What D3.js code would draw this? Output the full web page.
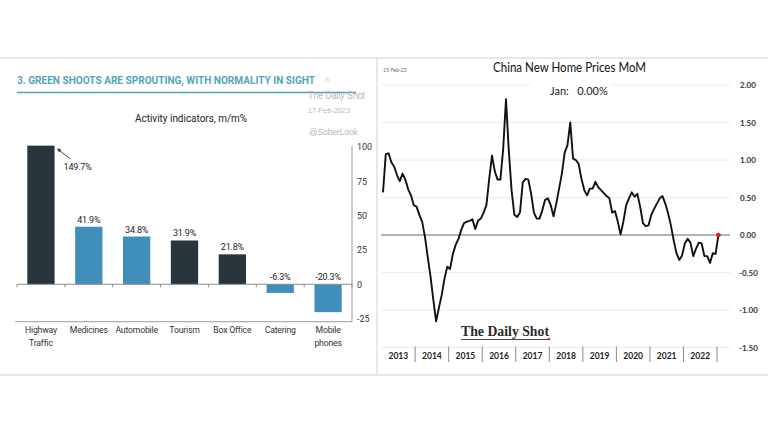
<!DOCTYPE html>
<html><head><meta charset="utf-8">
<script src="https://cdn.jsdelivr.net/npm/d3@7"></script>
<style>html,body{margin:0;padding:0;background:#fff;}svg{display:block;}</style>
</head><body>
<script>
// ---------- Left chart data ----------
const categories = ["Highway Traffic","Medicines","Automobile","Tourism","Box Office","Catering","Mobile phones"];
const catLines = [["Highway","Traffic"],["Medicines"],["Automobile"],["Tourism"],["Box Office"],["Catering"],["Mobile","phones"]];
const activityValues = [149.7, 41.9, 34.8, 31.9, 21.8, -6.3, -20.3];
const leftTicks = [-25, 0, 25, 50, 75, 100];
// ---------- Right chart data (monthly, Jan 2013 .. Jan 2023) ----------
const startYear = 2013;
const yearLabels = ["2013","2014","2015","2016","2017","2018","2019","2020","2021","2022"];
const homePriceMoM = [
 0.57,1.08,1.09,0.97,0.91,0.80,0.72,0.82,0.74,0.61,0.53,0.40,
 0.38,0.27,0.18,-0.02,-0.29,-0.55,-0.86,-1.15,-0.97,-0.80,-0.58,-0.42,
 -0.45,-0.25,-0.13,-0.05,0.07,0.16,0.18,0.19,0.21,0.08,0.19,0.22,
 0.30,0.40,0.75,1.06,0.85,0.74,0.74,1.15,1.81,1.13,0.60,0.27,
 0.24,0.30,0.70,0.75,0.74,0.55,0.30,0.22,0.22,0.33,0.47,0.49,
 0.40,0.25,0.42,0.62,0.82,1.10,1.20,1.50,1.02,1.00,0.95,0.75,
 0.60,0.53,0.62,0.62,0.71,0.64,0.60,0.56,0.52,0.49,0.30,0.32,
 0.18,0.01,0.18,0.40,0.49,0.57,0.51,0.55,0.38,0.16,0.12,0.13,
 0.27,0.35,0.42,0.49,0.52,0.42,0.29,0.13,-0.07,-0.24,-0.33,-0.27,
 -0.11,-0.05,-0.10,-0.28,-0.18,-0.10,-0.11,-0.28,-0.28,-0.37,-0.24,-0.25,
 0.00
];
const rightTicks = [-1.5,-1.0,-0.5,0,0.5,1.0,1.5,2.0];

// ---------- styles ----------
const darkBar = "#28363b", blueBar = "#3f8fba", teal = "#52a5bd";
const barColors = [darkBar, blueBar, blueBar, darkBar, darkBar, blueBar, blueBar];
const loc = d3.formatLocale({decimal:".", thousands:",", grouping:[3], currency:["$",""], minus:"-"});

const svg = d3.select("body").append("svg").attr("width",768).attr("height",432);
svg.append("rect").attr("width",768).attr("height",432).attr("fill","#fff");

// frame
svg.append("line").attr("x1",0).attr("x2",768).attr("y1",58).attr("y2",58).attr("stroke","#cfcfcf").attr("stroke-width",1.2);
svg.append("line").attr("x1",0).attr("x2",768).attr("y1",375).attr("y2",375).attr("stroke","#cfcfcf").attr("stroke-width",1.2);
svg.append("line").attr("x1",377).attr("x2",377).attr("y1",58).attr("y2",375).attr("stroke","#d8d8d8").attr("stroke-width",1.2);

// ================= LEFT CHART =================
const L = svg.append("g");
L.append("text").attr("x",17).attr("y",84).attr("font-family","Roboto, 'Liberation Sans', sans-serif")
 .attr("font-weight","700").attr("font-size",10.2).attr("fill",teal)
 .attr("textLength",298).attr("lengthAdjust","spacingAndGlyphs")
 .text("3. GREEN SHOOTS ARE SPROUTING, WITH NORMALITY IN SIGHT");
L.append("text").attr("x",325).attr("y",82).attr("font-family","Roboto, sans-serif").attr("font-size",7).attr("fill","#c8c8c8").text("n");
L.append("line").attr("x1",17).attr("x2",356).attr("y1",92.5).attr("y2",92.5).attr("stroke",teal).attr("stroke-width",1.3);

// watermark
const wm = L.append("g").attr("font-family","'Liberation Sans', Arial, sans-serif").attr("fill","#b5b5b5");
wm.append("text").attr("x",308).attr("y",99).attr("font-size",10).attr("textLength",57).attr("lengthAdjust","spacingAndGlyphs").text("The Daily Shot");
wm.append("text").attr("x",308).attr("y",113).attr("font-size",7.5).attr("textLength",42).attr("lengthAdjust","spacingAndGlyphs").text("17-Feb-2023");
wm.append("text").attr("x",309).attr("y",135).attr("font-size",9).attr("textLength",49).attr("lengthAdjust","spacingAndGlyphs").text("@SoberLook");

L.append("text").attr("x",191).attr("y",122).attr("text-anchor","middle")
 .attr("font-family","Roboto, sans-serif").attr("font-size",11).attr("fill","#222")
 .attr("textLength",112).attr("lengthAdjust","spacingAndGlyphs").text("Activity indicators, m/m%");

const xL = d3.scaleBand().domain(categories).range([17,352]).paddingInner(0.43).paddingOuter(0.215);
const yL = d3.scaleLinear().domain([-25,100]).range([318.6,147]);

// axes lines
L.append("line").attr("x1",352).attr("x2",352).attr("y1",yL(100)-1).attr("y2",321.7).attr("stroke","#9a9a9a").attr("stroke-width",1);
L.append("line").attr("x1",15).attr("x2",352).attr("y1",321.7).attr("y2",321.7).attr("stroke","#9a9a9a").attr("stroke-width",1);

// bars
L.selectAll("rect.bar").data(activityValues).join("rect").attr("class","bar")
 .attr("x",(d,i)=>xL(categories[i]))
 .attr("width",xL.bandwidth())
 .attr("y",d=>yL(Math.min(Math.max(d,0),101)))
 .attr("height",d=>Math.abs(yL(Math.min(d,101))-yL(0)))
 .attr("fill",(d,i)=>barColors[i]);

// zero line with ticks at band boundaries
L.append("line").attr("x1",17).attr("x2",352).attr("y1",yL(0)).attr("y2",yL(0)).attr("stroke","#8a8a8a").attr("stroke-width",1);
const half = xL.step()*xL.paddingInner()/2;
const bounds = categories.map(c=>xL(c)-half).concat([xL(categories[categories.length-1])+xL.bandwidth()+half]);
L.selectAll("line.tk").data(bounds).join("line").attr("class","tk")
 .attr("x1",d=>d).attr("x2",d=>d).attr("y1",yL(0)).attr("y2",yL(0)+3).attr("stroke","#8a8a8a");

// y axis labels
const axL = d3.axisRight(yL).tickValues(leftTicks).tickSize(0).tickPadding(5).tickFormat(loc.format("d"));
const gAxL = L.append("g").attr("transform","translate(352,0)").call(axL);
gAxL.select(".domain").remove();
gAxL.selectAll("text").attr("font-family","Roboto, sans-serif").attr("font-size",9).attr("fill","#333");

// value labels
const fmtPct = d=>loc.format(".1f")(d)+"%";
L.selectAll("text.val").data(activityValues).join("text").attr("class","val")
 .attr("x",(d,i)=> d>101 ? xL(categories[i])+xL.bandwidth()+23 : xL(categories[i])+xL.bandwidth()/2)
 .attr("y",d=> d>101 ? 170 : (d>=0 ? yL(d)-4 : yL(0)-4))
 .attr("text-anchor","middle").attr("font-family","Roboto, sans-serif").attr("font-size",9).attr("fill","#222")
 .attr("letter-spacing",-0.2)
 .text(fmtPct);
// arrow for clipped bar
const hx = xL(categories[0])+xL.bandwidth();
L.append("defs").append("marker").attr("id","ah").attr("viewBox","0 0 6 6").attr("refX",5).attr("refY",3)
 .attr("markerWidth",4).attr("markerHeight",4).attr("orient","auto")
 .append("path").attr("d","M0,0 L6,3 L0,6 Z").attr("fill","#444");
L.append("line").attr("x1",hx+16).attr("y1",159).attr("x2",hx+3).attr("y2",149)
 .attr("stroke","#444").attr("stroke-width",1).attr("marker-end","url(#ah)");

// x category labels
const xlab = L.selectAll("text.cat").data(catLines).join("text").attr("class","cat")
 .attr("text-anchor","middle").attr("font-family","Roboto, sans-serif").attr("font-size",8.7).attr("fill","#333")
 .attr("letter-spacing",-0.2);
xlab.each(function(lines,i){
  const t = d3.select(this);
  lines.forEach((s,k)=>t.append("tspan").attr("x",xL(categories[i])+xL.bandwidth()/2).attr("y",333+k*12.5).text(s));
});

// ================= RIGHT CHART =================
const R = svg.append("g");
const xR = d3.scaleLinear().domain([0,120]).range([383,718.4]);
const yR = d3.scaleLinear().domain([-1.5,2]).range([347.7,85]);

// gridlines
R.selectAll("line.grid").data(rightTicks.filter(d=>d!==0)).join("line").attr("class","grid")
 .attr("x1",381).attr("x2",730).attr("y1",d=>yR(d)).attr("y2",d=>yR(d)).attr("stroke","#ececec").attr("stroke-width",1);
R.append("line").attr("x1",381).attr("x2",730).attr("y1",yR(0)).attr("y2",yR(0)).attr("stroke","#9c9c9c").attr("stroke-width",1.5);

// y tick labels
const axR = d3.axisRight(yR).tickValues(rightTicks).tickSize(0).tickPadding(8).tickFormat(loc.format(".2f"));
const gAxR = R.append("g").attr("transform","translate(731,0)").call(axR);
gAxR.select(".domain").remove();
gAxR.selectAll("text").attr("font-family","Lato, 'Open Sans', sans-serif").attr("font-weight","700").attr("font-size",8).attr("fill","#333")
 .attr("x", function(d){ return d<0 ? 8 : 9; });

// titles
R.append("text").attr("x",383).attr("y",72).attr("font-family","Lato, sans-serif").attr("font-size",5).attr("fill","#666").text("15-Feb-23");
R.append("text").attr("x",569.5).attr("y",71.5).attr("text-anchor","middle").attr("font-family","Lato, 'Open Sans', sans-serif")
 .attr("font-size",13).attr("fill","#111").attr("textLength",153).attr("lengthAdjust","spacingAndGlyphs").text("China New Home Prices MoM");
R.append("rect").attr("x",531).attr("y",80).attr("width",80).attr("height",16).attr("fill","#fff");
R.append("text").attr("x",550).attr("y",95).attr("font-family","Lato, 'Open Sans', sans-serif").attr("font-size",11).attr("fill","#222")
 .attr("xml:space","preserve").text("Jan:   " + loc.format(".2f")(homePriceMoM[homePriceMoM.length-1]) + "%");

// line
const line = d3.line().x((d,i)=>xR(i)).y(d=>yR(d)).curve(d3.curveLinear);
R.append("path").datum(homePriceMoM).attr("d",line).attr("fill","none").attr("stroke","#111")
 .attr("stroke-width",1.9).attr("stroke-linejoin","round");
R.append("circle").attr("cx",xR(homePriceMoM.length-1)).attr("cy",yR(homePriceMoM[homePriceMoM.length-1]))
 .attr("r",2.4).attr("fill","#d7261e");

// year labels and separators
R.selectAll("line.sep").data(yearLabels).join("line").attr("class","sep")
 .attr("x1",(d,k)=>xR(12*(k+1)-0.5)).attr("x2",(d,k)=>xR(12*(k+1)-0.5))
 .attr("y1",346.5).attr("y2",362).attr("stroke","#8a8a8a").attr("stroke-width",1);
R.selectAll("text.yr").data(yearLabels).join("text").attr("class","yr")
 .attr("x",(d,k)=>xR(12*k+5.5)).attr("y",359).attr("text-anchor","middle")
 .attr("font-family","Lato, 'Open Sans', sans-serif").attr("font-weight","700").attr("font-size",8.5).attr("fill","#222").text(d=>d);

// logo
R.append("text").attr("x",461).attr("y",336).attr("font-family","'Liberation Serif', 'DejaVu Serif', serif")
 .attr("font-size",15).attr("font-weight","700").attr("fill","#2a2a2a").attr("textLength",88).attr("lengthAdjust","spacingAndGlyphs").text("The Daily Shot");
R.append("line").attr("x1",461).attr("x2",548).attr("y1",339.5).attr("y2",339.5).attr("stroke","#333").attr("stroke-width",0.9);
R.append("circle").attr("cx",549).attr("cy",339).attr("r",1.2).attr("fill","#d7261e");
</script>
</body></html>
